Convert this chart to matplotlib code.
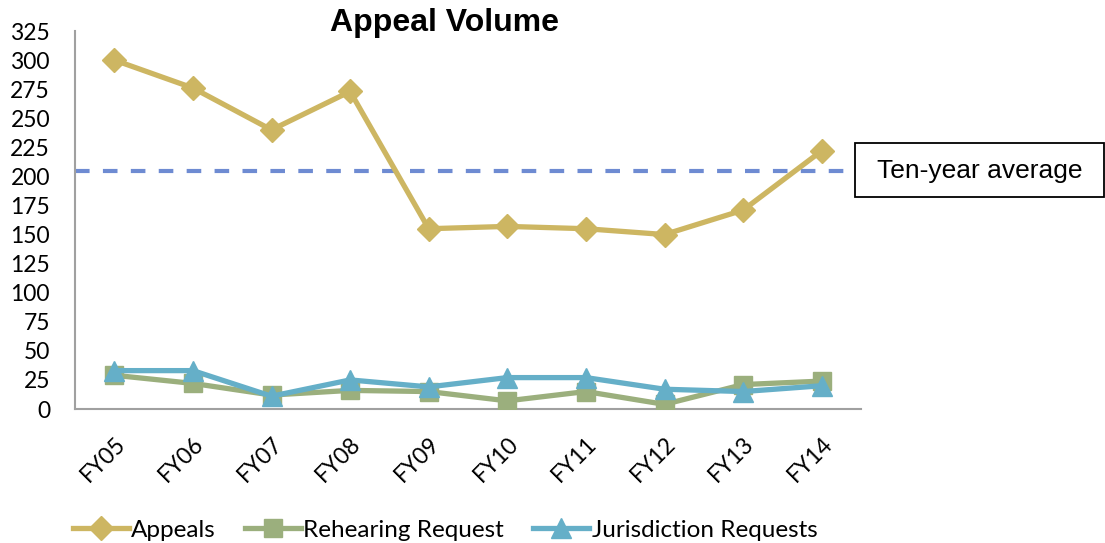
import matplotlib
matplotlib.use("Agg")
import matplotlib.pyplot as plt
from matplotlib.patches import Rectangle

years = ["FY05", "FY06", "FY07", "FY08", "FY09", "FY10", "FY11", "FY12", "FY13", "FY14"]
appeals = [300, 276, 240, 273, 155, 157, 155, 150, 171, 222]
rehearing = [29, 22, 12, 16, 15, 7, 15, 4, 21, 24]
jurisdiction = [33, 33, 11, 25, 19, 27, 27, 17, 15, 20]
ten_year_average = 205
yticks = list(range(0, 326, 25))

fig = plt.figure(figsize=(11.05, 5.43), dpi=100)
ax = fig.add_axes([75/1105, 1-409/543, (861-75)/1105, (409-31)/543])

x = list(range(len(years)))
lbl_font = "Lato"
ax.plot(x, appeals, color="#CDB662", lw=3.8, marker="D", ms=12, label="Appeals", zorder=4)
ax.plot(x, rehearing, color="#9BAF7D", lw=3.8, marker="s", ms=12.5, label="Rehearing Request", zorder=3)
ax.plot(x, jurisdiction, color="#65AFC8", lw=3.8, marker="^", ms=14, label="Jurisdiction Requests", zorder=5)
ax.axhline(ten_year_average, color="#6E8BD2", lw=3, ls=(0, (3.5, 3.2)), zorder=2)

ax.set_xlim(-0.5, len(years) - 0.5)
ax.set_ylim(0, 325)
ax.set_yticks(yticks)
ax.set_yticklabels([str(v) for v in yticks], fontsize=16.5, family=lbl_font)
ax.set_xticks(x)
ax.set_xticklabels(years, rotation=45, ha="right", rotation_mode="anchor", fontsize=16.5, family=lbl_font)
ax.tick_params(axis="y", length=0, pad=18)
ax.tick_params(axis="x", length=0, pad=17)
for s in ["top", "right"]:
    ax.spines[s].set_visible(False)
for s in ["left", "bottom"]:
    ax.spines[s].set_color("#A0A0A0")
    ax.spines[s].set_linewidth(1.5)

fig.text(445/1105, 1-23/543, "Appeal Volume", ha="center", va="center",
         fontsize=23, fontweight="bold", family="Liberation Sans")

fig.patches.append(Rectangle((855/1105, 1-197/543), (1104-855)/1105, 54/543,
                             transform=fig.transFigure, fc="white", ec="black", lw=1.3))
fig.text(877/1105, 1-171/543, "Ten-year average", ha="left", va="center",
         fontsize=19, family="Liberation Sans")

leg = fig.legend(loc="center", bbox_to_anchor=(445/1105, 1-530/543), ncol=3, frameon=False,
                 prop={"family": lbl_font, "size": 17.5}, handlelength=2.3, handletextpad=0.1,
                 columnspacing=1.2, markerscale=1.0)

fig.savefig("out.png", dpi=100)
